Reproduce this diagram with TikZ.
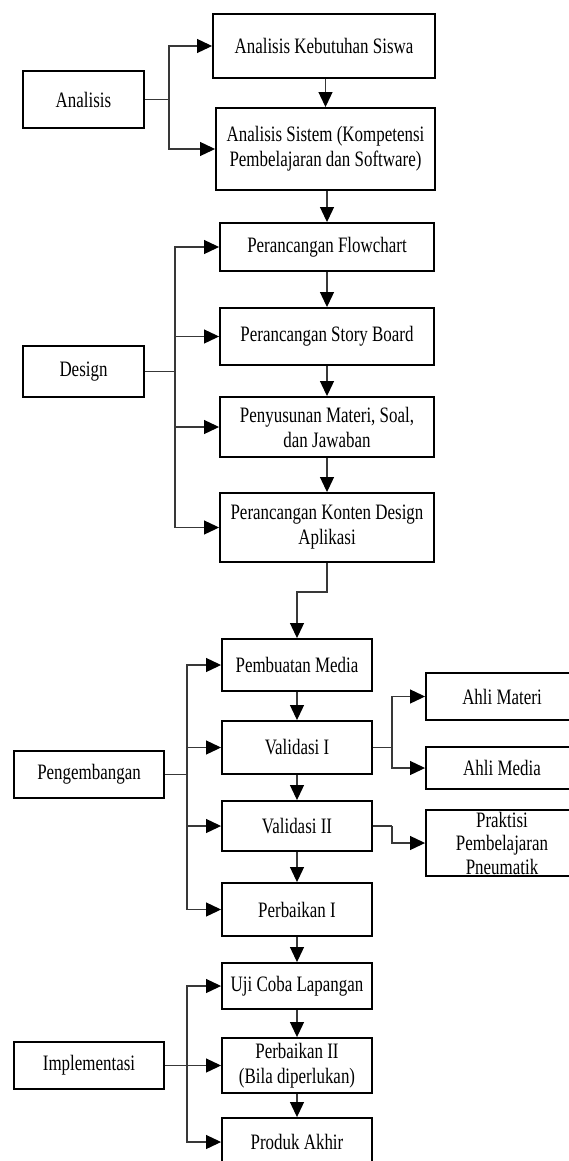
\documentclass[tikz,border=0pt]{standalone}
\usepackage{fontspec}
\setmainfont[FakeStretch=0.77]{Liberation Serif}
\usetikzlibrary{arrows.meta}
\begin{document}
\begin{tikzpicture}[x=1pt,y=-1pt,
  box/.style={draw, line width=1.9pt, inner sep=0pt, align=center,
    font=\fontsize{22}{25}\selectfont},
  conn/.style={draw=black!78, line width=1.1pt},
  arr/.style={conn, -{Triangle[length=15pt,width=14pt,color=black]}}]
\useasboundingbox (0,0) rectangle (569,1161);
\clip (0,0) rectangle (569,1161);

% phase boxes
\node[box, minimum width=121pt, minimum height=57pt] (analisis) at (83.5,99.5) {Analisis};
\node[box, minimum width=121pt, minimum height=51pt] (design) at (83.5,371.5) {Design};
\node[box, minimum width=150pt, minimum height=47pt] (pengembangan) at (89,774.5) {Pengembangan};
\node[box, minimum width=150pt, minimum height=47pt] (implementasi) at (89,1065.5) {Implementasi};

% analisis
\node[box, minimum width=222pt, minimum height=64pt] (kebutuhan) at (324,46) {Analisis Kebutuhan Siswa};
\node[box, minimum width=219pt, minimum height=82pt] (sistem) at (325.5,149) {Analisis Sistem (Kompetensi\\Pembelajaran dan Software)};

% design
\node[box, minimum width=214pt, minimum height=48pt] (flowchart) at (327,247) {Perancangan Flowchart};
\node[box, minimum width=214pt, minimum height=57pt] (story) at (327,336.5) {Perancangan Story Board};
\node[box, minimum width=214pt, minimum height=60pt] (penyusunan) at (327,427) {Penyusunan Materi, Soal,\\dan Jawaban};
\node[box, minimum width=214pt, minimum height=69pt] (konten) at (327,527.5) {Perancangan Konten Design\\Aplikasi};

% pengembangan
\node[box, minimum width=150pt, minimum height=52pt] (pembuatan) at (297,665) {Pembuatan Media};
\node[box, minimum width=150pt, minimum height=53pt] (val1) at (297,747.5) {Validasi I};
\node[box, minimum width=150pt, minimum height=50pt] (val2) at (297,826) {Validasi II};
\node[box, minimum width=150pt, minimum height=53pt] (perb1) at (297,909.5) {Perbaikan I};

\node[box, minimum width=152pt, minimum height=47pt] (ahlimateri) at (502,696.5) {Ahli Materi};
\node[box, minimum width=152pt, minimum height=42pt] (ahlimedia) at (502,768) {Ahli Media};
\node[box, minimum width=152pt, minimum height=66pt, inner ysep=-10pt,
  font=\fontsize{22}{23.5}\selectfont] (praktisi) at (502,843) {Praktisi\\Pembelajaran\\Pneumatik};

% implementasi
\node[box, minimum width=150pt, minimum height=46pt] (uji) at (297,986) {Uji Coba Lapangan};
\node[box, minimum width=150pt, minimum height=55pt] (perb2) at (297,1065.5) {Perbaikan II\\(Bila diperlukan)};
\node[box, minimum width=150pt, minimum height=48pt] (produk) at (297,1142) {Produk Akhir};

% junctions
\coordinate (ja) at (169,99.5);
\coordinate (jd) at (175,371.5);
\coordinate (jp) at (187,774.5);
\coordinate (ji) at (187,1065.5);
\coordinate (jv) at (392,747.5);
\coordinate (jw) at (392,826);
\coordinate (k1) at (327,592);
\coordinate (k2) at (297,592);

% analisis connectors
\draw[conn] (analisis.east) -- (ja);
\draw[arr] (ja) |- (kebutuhan.west);
\draw[arr] (ja) |- (sistem.west);
\draw[arr] (kebutuhan.south -| sistem.north) -- (sistem.north);
\draw[arr] (sistem.south -| flowchart.north) -- (flowchart.north);

% design connectors
\draw[conn] (design.east) -- (jd);
\draw[arr] (jd) |- (flowchart.west);
\draw[arr] (jd) |- (story.west);
\draw[arr] (jd) |- (penyusunan.west);
\draw[arr] (jd) |- (konten.west);
\draw[arr] (flowchart.south) -- (story.north);
\draw[arr] (story.south) -- (penyusunan.north);
\draw[arr] (penyusunan.south) -- (konten.north);
\draw[arr] (konten.south) -- (k1) -- (k2) -- (pembuatan.north);

% pengembangan connectors
\draw[conn] (pengembangan.east) -- (jp);
\draw[arr] (jp) |- (pembuatan.west);
\draw[arr] (jp) |- (val1.west);
\draw[arr] (jp) |- (val2.west);
\draw[arr] (jp) |- (perb1.west);
\draw[arr] (pembuatan.south) -- (val1.north);
\draw[arr] (val1.south) -- (val2.north);
\draw[arr] (val2.south) -- (perb1.north);
\draw[arr] (perb1.south) -- (uji.north);

\draw[conn] (val1.east) -- (jv);
\draw[arr] (jv) |- (ahlimateri.west);
\draw[arr] (jv) |- (ahlimedia.west);
\draw[conn] (val2.east) -- (jw);
\draw[arr] (jw) |- (praktisi.west);

% implementasi connectors
\draw[arr] (implementasi.east) -- (perb2.west);
\draw[arr] (ji) |- (uji.west);
\draw[arr] (ji) |- (produk.west);
\draw[arr] (uji.south) -- (perb2.north);
\draw[arr] (perb2.south) -- (produk.north);
\end{tikzpicture}
\end{document}
